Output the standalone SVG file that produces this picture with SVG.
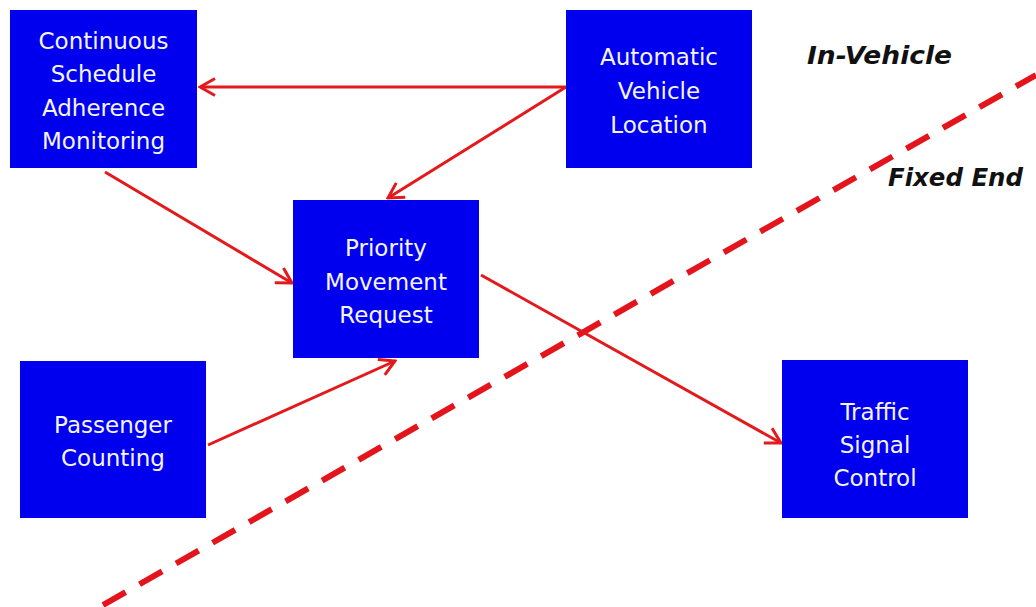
<svg xmlns="http://www.w3.org/2000/svg" width="1036" height="607" viewBox="0 0 1036 607">
<style>
.box{fill:#0000ee;}
.lbl{font-family:"DejaVu Sans","Liberation Sans",sans-serif;font-size:23px;fill:#f4f4ff;text-anchor:middle;}
.side{font-family:"DejaVu Sans","Liberation Sans",sans-serif;font-size:24px;font-weight:bold;font-style:italic;fill:#111;}
.conn{stroke:#e3191c;stroke-width:3;fill:none;}
</style>
<defs>
<marker id="arr" viewBox="0 0 20 20" refX="18" refY="10" markerWidth="20" markerHeight="20" markerUnits="userSpaceOnUse" orient="auto">
<path d="M3,1.5 L18,10 L3,18.5" fill="none" stroke="#e3191c" stroke-width="3"/>
</marker>
</defs>
<rect width="1036" height="607" fill="#ffffff"/>
<line x1="103" y1="605" x2="1036" y2="75" stroke="#e3141c" stroke-width="6" stroke-dasharray="26 16"/>
<text class="side" x="807" y="64" textLength="145" lengthAdjust="spacingAndGlyphs">In-Vehicle</text>
<text class="side" x="888" y="186" textLength="135" lengthAdjust="spacingAndGlyphs">Fixed End</text>
<g id="connectors">
<line class="conn" x1="566" y1="87" x2="200" y2="87" marker-end="url(#arr)"/>
<line class="conn" x1="566" y1="87" x2="388" y2="198" marker-end="url(#arr)"/>
<line class="conn" x1="105" y1="172" x2="292" y2="283" marker-end="url(#arr)"/>
<line class="conn" x1="208" y1="445" x2="395" y2="361" marker-end="url(#arr)"/>
<line class="conn" x1="481" y1="275" x2="781" y2="443" marker-end="url(#arr)"/>
</g>
<g id="csam">
<rect class="box" x="10" y="10" width="187" height="158"/>
<text class="lbl" x="103.5" y="49">Continuous</text>
<text class="lbl" x="103.5" y="82">Schedule</text>
<text class="lbl" x="103.5" y="116">Adherence</text>
<text class="lbl" x="103.5" y="149">Monitoring</text>
</g>
<g id="avl">
<rect class="box" x="566" y="10" width="186" height="158"/>
<text class="lbl" x="659" y="65">Automatic</text>
<text class="lbl" x="659" y="99">Vehicle</text>
<text class="lbl" x="659" y="133">Location</text>
</g>
<g id="pmr">
<rect class="box" x="293" y="200" width="186" height="158"/>
<text class="lbl" x="386" y="256">Priority</text>
<text class="lbl" x="386" y="290">Movement</text>
<text class="lbl" x="386" y="323">Request</text>
</g>
<g id="pc">
<rect class="box" x="20" y="361" width="186" height="157"/>
<text class="lbl" x="113" y="433">Passenger</text>
<text class="lbl" x="113" y="466">Counting</text>
</g>
<g id="tsc">
<rect class="box" x="782" y="360" width="186" height="158"/>
<text class="lbl" x="875" y="420">Traffic</text>
<text class="lbl" x="875" y="453">Signal</text>
<text class="lbl" x="875" y="486">Control</text>
</g>
</svg>
